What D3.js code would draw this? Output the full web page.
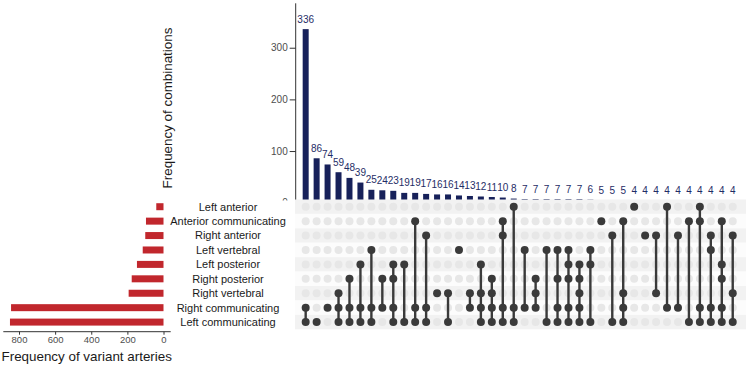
<!DOCTYPE html>
<html><head><meta charset="utf-8">
<script src="https://cdn.jsdelivr.net/npm/d3@7"></script>
<style>body{margin:0;background:#fff}svg{display:block;font-family:Arial,"Liberation Sans",sans-serif}</style>
</head><body><svg id="c" width="746" height="365"></svg>
<script>
const sets = ["Left anterior","Anterior communicating","Right anterior","Left vertebral","Left posterior","Right posterior","Right vertebral","Right communicating","Left communicating"];
const setSizes = [40, 97, 101, 115, 147, 176, 193, 844, 850];
const comboCounts = [336,86,74,59,48,39,25,24,23,19,19,17,16,16,14,13,12,11,10,8,7,7,7,7,7,7,6,5,5,5,4,4,4,4,4,4,4,4,4,4];
// membership: indices into sets (0 = Left anterior ... 8 = Left communicating)
const comboMembers = [
 [7,8],[8],[7],[6,7,8],[5,7,8],[4,7,8],[3,7,8],[5,7],[4,5,7,8],[4,8],
 [1,7,8],[2,7,8],[6],[6,8],[3],[6,7],[4,6,7,8],[5,6,7,8],[1,2,7,8],[0,7,8],
 [3,7],[5,6,7],[3,8],[3,5,7,8],[3,4,5,7,8],[4,5,6,7,8],[3,4,8],[1],[2,8],[1,6,7,8],
 [0],[2],[2,6],[0,7],[2,7],[1,8],[0,1,7,8],[2,3,7,8],[1,4,5,7,8],[2,6,8]
];
const topTicks = [0,100,200,300];
const leftTicks = [0,200,400,600,800];

const svg = d3.select("#c");
const idx = d3.range(comboCounts.length);
const x = d3.scaleBand().domain(idx).range([300.2, 738.2]);
const y = d3.scaleLinear().domain([0, 386]).range([202.7, 3.3]);
const row = d3.scaleBand().domain(sets).range([199.5, 329.3]);
const xl = d3.scaleLinear().domain([0, 800]).range([163.5, 19]);

// top bars
const bw = 6;
svg.append("g").selectAll("rect").data(idx).join("rect")
  .attr("x", i => x(i) + x.bandwidth()/2 - bw/2)
  .attr("width", bw)
  .attr("y", i => y(comboCounts[i]))
  .attr("height", i => y(0) - y(comboCounts[i]))
  .attr("fill", "#17215a");
svg.append("g").selectAll("text").data(idx).join("text")
  .attr("x", i => x(i) + x.bandwidth()/2)
  .attr("y", i => y(comboCounts[i]) - 6.5)
  .attr("text-anchor", "middle")
  .attr("font-size", 10)
  .attr("fill", "#1f2d66")
  .text(i => comboCounts[i]);

// top y axis
const ya = svg.append("g").attr("transform", "translate(295.7,0)")
  .call(d3.axisLeft(y).tickValues(topTicks).tickSize(6).tickPadding(2));
ya.select(".domain").attr("d", `M0,${y.range()[1]}V${y.range()[0]}`).attr("stroke", "#333");
ya.selectAll(".tick line").attr("stroke", "#333");
ya.selectAll(".tick text").attr("font-size", 10).attr("fill", "#4d4d4d").attr("font-family", "Arial, 'Liberation Sans', sans-serif");

svg.append("text")
  .attr("transform", "translate(172,108) rotate(-90)")
  .attr("text-anchor", "middle")
  .attr("font-size", 13.4)
  .attr("fill", "#1a1a1a")
  .text("Frequency of combinations");

// white cover for lower panel (labels + matrix)
svg.append("rect").attr("x", 166).attr("y", 200.5).attr("width", 580).attr("height", 140).attr("fill", "#fff");

// stripes
svg.append("g").selectAll("rect").data(sets).join("rect")
  .attr("x", 295).attr("width", 451)
  .attr("y", d => row(d)).attr("height", row.bandwidth())
  .attr("fill", (d, i) => i % 2 === 0 ? "#f2f2f2" : "#fcfcfc");

// inactive dots
const cells = [];
idx.forEach(i => sets.forEach((s, j) => cells.push({i, j, on: comboMembers[i].includes(j)})));
svg.append("g").selectAll("circle").data(cells.filter(c => !c.on)).join("circle")
  .attr("cx", c => x(c.i) + x.bandwidth()/2)
  .attr("cy", c => row(sets[c.j]) + row.bandwidth()/2)
  .attr("r", 4)
  .attr("fill", "#e7e7e7");
// connecting lines
svg.append("g").selectAll("line").data(idx.filter(i => comboMembers[i].length > 1)).join("line")
  .attr("x1", i => x(i) + x.bandwidth()/2)
  .attr("x2", i => x(i) + x.bandwidth()/2)
  .attr("y1", i => row(sets[d3.min(comboMembers[i])]) + row.bandwidth()/2)
  .attr("y2", i => row(sets[d3.max(comboMembers[i])]) + row.bandwidth()/2)
  .attr("stroke", "#3a3a3a").attr("stroke-width", 2.4);
svg.append("g").selectAll("circle").data(cells.filter(c => c.on)).join("circle")
  .attr("cx", c => x(c.i) + x.bandwidth()/2)
  .attr("cy", c => row(sets[c.j]) + row.bandwidth()/2)
  .attr("r", 4)
  .attr("fill", "#3a3a3a");

// row labels
svg.append("g").selectAll("text").data(sets).join("text")
  .attr("x", 228)
  .attr("y", d => row(d) + row.bandwidth()/2)
  .attr("dy", "0.35em")
  .attr("text-anchor", "middle")
  .attr("font-size", 11)
  .attr("fill", "#1a1a1a")
  .text(d => d);

// left bars
svg.append("g").selectAll("rect").data(sets).join("rect")
  .attr("x", (d, i) => xl(setSizes[i]))
  .attr("width", (d, i) => xl(0) - xl(setSizes[i]))
  .attr("y", d => row(d) + row.bandwidth()/2 - 3.5)
  .attr("height", 7)
  .attr("fill", "#c1272d");

const xa = svg.append("g").attr("transform", "translate(0,331.7)")
  .call(d3.axisBottom(xl).tickValues(leftTicks).tickSize(3).tickPadding(1.5));
xa.select(".domain").attr("d", "M3.3,0H170.7").attr("stroke", "#333");
xa.selectAll(".tick line").attr("stroke", "#333");
xa.selectAll(".tick text").attr("font-size", 9.5).attr("fill", "#4d4d4d").attr("font-family", "Arial, 'Liberation Sans', sans-serif");

svg.append("text")
  .attr("x", 1.5).attr("y", 360.5)
  .attr("font-size", 13.4)
  .attr("fill", "#1a1a1a")
  .text("Frequency of variant arteries");
</script></body></html>
